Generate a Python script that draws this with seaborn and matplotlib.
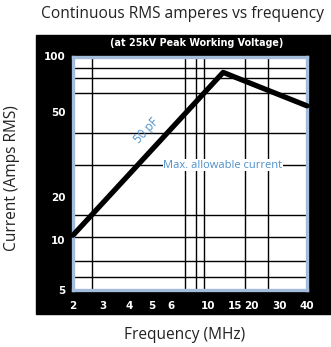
import numpy as np
import pandas as pd
import matplotlib
matplotlib.use("Agg")
import matplotlib.pyplot as plt
from matplotlib.patches import Rectangle
import seaborn as sns

sns.set_style("white")
plt.rcParams['font.family'] = ['Open Sans', 'DejaVu Sans']

# max allowable current curve, 50 pF
freq_mhz = [2, 12.5, 40]
current_a = [10.8, 82, 54]

x_ticks = [2, 3, 4, 5, 6, 10, 15, 20, 30, 40]
y_ticks = [5, 10, 20, 50, 100]
x_grid = [2.6, 3, 4, 5, 6, 7.3, 8.5, 9.4, 10, 15, 18, 25.5, 30]
y_grid = [6, 7.5, 10, 10.5, 15, 20, 28.3, 40, 50, 63.4, 76.2, 86.3]

# the printed log axes are hand drawn and not evenly spaced,
# so each scale is pinned to where its labelled values sit
x_cal = [2, 3, 4, 5, 6, 10, 15, 20, 30, 40]
x_cal_pos = [0, 0.126, 0.2406, 0.3376, 0.4188, 0.5769, 0.6944, 0.7607, 0.8816, 1]
y_cal = [5, 10, 20, 50, 100]
y_cal_pos = [0, 0.2141, 0.3983, 0.7623, 1]

BLUE = '#4d8fcb'


def piecewise(x, xp, fp):
    x = np.asarray(x, float)
    y = np.interp(x, xp, fp)
    y = np.where(x < xp[0], fp[0] + (x - xp[0]) * (fp[1] - fp[0]) / (xp[1] - xp[0]), y)
    y = np.where(x > xp[-1], fp[-1] + (x - xp[-1]) * (fp[-1] - fp[-2]) / (xp[-1] - xp[-2]), y)
    return y


def make_scale(vals, pos):
    lv = np.log10(vals)
    pos = np.asarray(pos, float)

    def fwd(v):
        v = np.maximum(np.asarray(v, float), 1e-12)
        return piecewise(np.log10(v), lv, pos)

    def inv(p):
        return 10 ** piecewise(p, pos, lv)

    return fwd, inv


df = pd.DataFrame({'freq': freq_mhz, 'amps': current_a})

fig = plt.figure(figsize=(3.31, 3.47), dpi=100)
fig.add_artist(Rectangle((36 / 331, 33 / 347), 1 - 36 / 331, (314 - 34.7) / 347,
                         transform=fig.transFigure, color='black', zorder=-1))
ax = fig.add_axes([73 / 331, 57 / 347, 234 / 331, 233.5 / 347])

sns.lineplot(data=df, x='freq', y='amps', ax=ax, color='black', lw=3.8,
             zorder=3, clip_on=False)

ax.set_xscale('function', functions=make_scale(x_cal, x_cal_pos))
ax.set_yscale('function', functions=make_scale(y_cal, y_cal_pos))
ax.set_xlim(2, 40)
ax.set_ylim(5, 100)

ax.set_xticks(x_ticks)
ax.set_xticklabels([str(t) for t in x_ticks])
ax.set_yticks(y_ticks)
ax.set_yticklabels([str(t) for t in y_ticks])
ax.set_xticks(x_grid, minor=True)
ax.set_yticks(y_grid, minor=True)
ax.grid(False, which='major')
ax.grid(True, which='minor', color='black', lw=1.0)
ax.tick_params(which='both', length=0, colors='white', labelsize=7.5)
ax.tick_params(axis='x', pad=8)
ax.tick_params(axis='y', pad=5.5)
for lab in ax.get_xticklabels() + ax.get_yticklabels():
    lab.set_fontweight('bold')
    lab.set_family('DejaVu Sans')

for s in ax.spines.values():
    s.set_color('#a3bcd9')
    s.set_linewidth(2.4)
ax.set_facecolor('white')
ax.set_xlabel('')
ax.set_ylabel('')

ax.text(0.315, 0.68, '50 pF', transform=ax.transAxes, rotation=47,
        ha='center', va='center', color=BLUE, fontsize=8.5)
ax.text(0.641, 0.535, 'Max. allowable current', transform=ax.transAxes,
        ha='center', va='center', color=BLUE, fontsize=8,
        bbox=dict(facecolor='white', edgecolor='none', pad=0.5))

fig.text(183 / 331, 1 - 14 / 347, 'Continuous RMS amperes vs frequency',
         ha='center', va='center', fontsize=11.2, color='#222222')
fig.text(197 / 331, 1 - 43.5 / 347, '(at 25kV Peak Working Voltage)',
         ha='center', va='center', fontsize=6.9, color='white',
         fontweight='bold', family='DejaVu Sans')
fig.text(12 / 331, 1 - 178 / 347, 'Current (Amps RMS)', rotation=90,
         ha='center', va='center', fontsize=11.2, color='#222222')
fig.text(185 / 331, 1 - 335 / 347, 'Frequency (MHz)',
         ha='center', va='center', fontsize=11.2, color='#222222')

fig.savefig('out.png', dpi=100)
